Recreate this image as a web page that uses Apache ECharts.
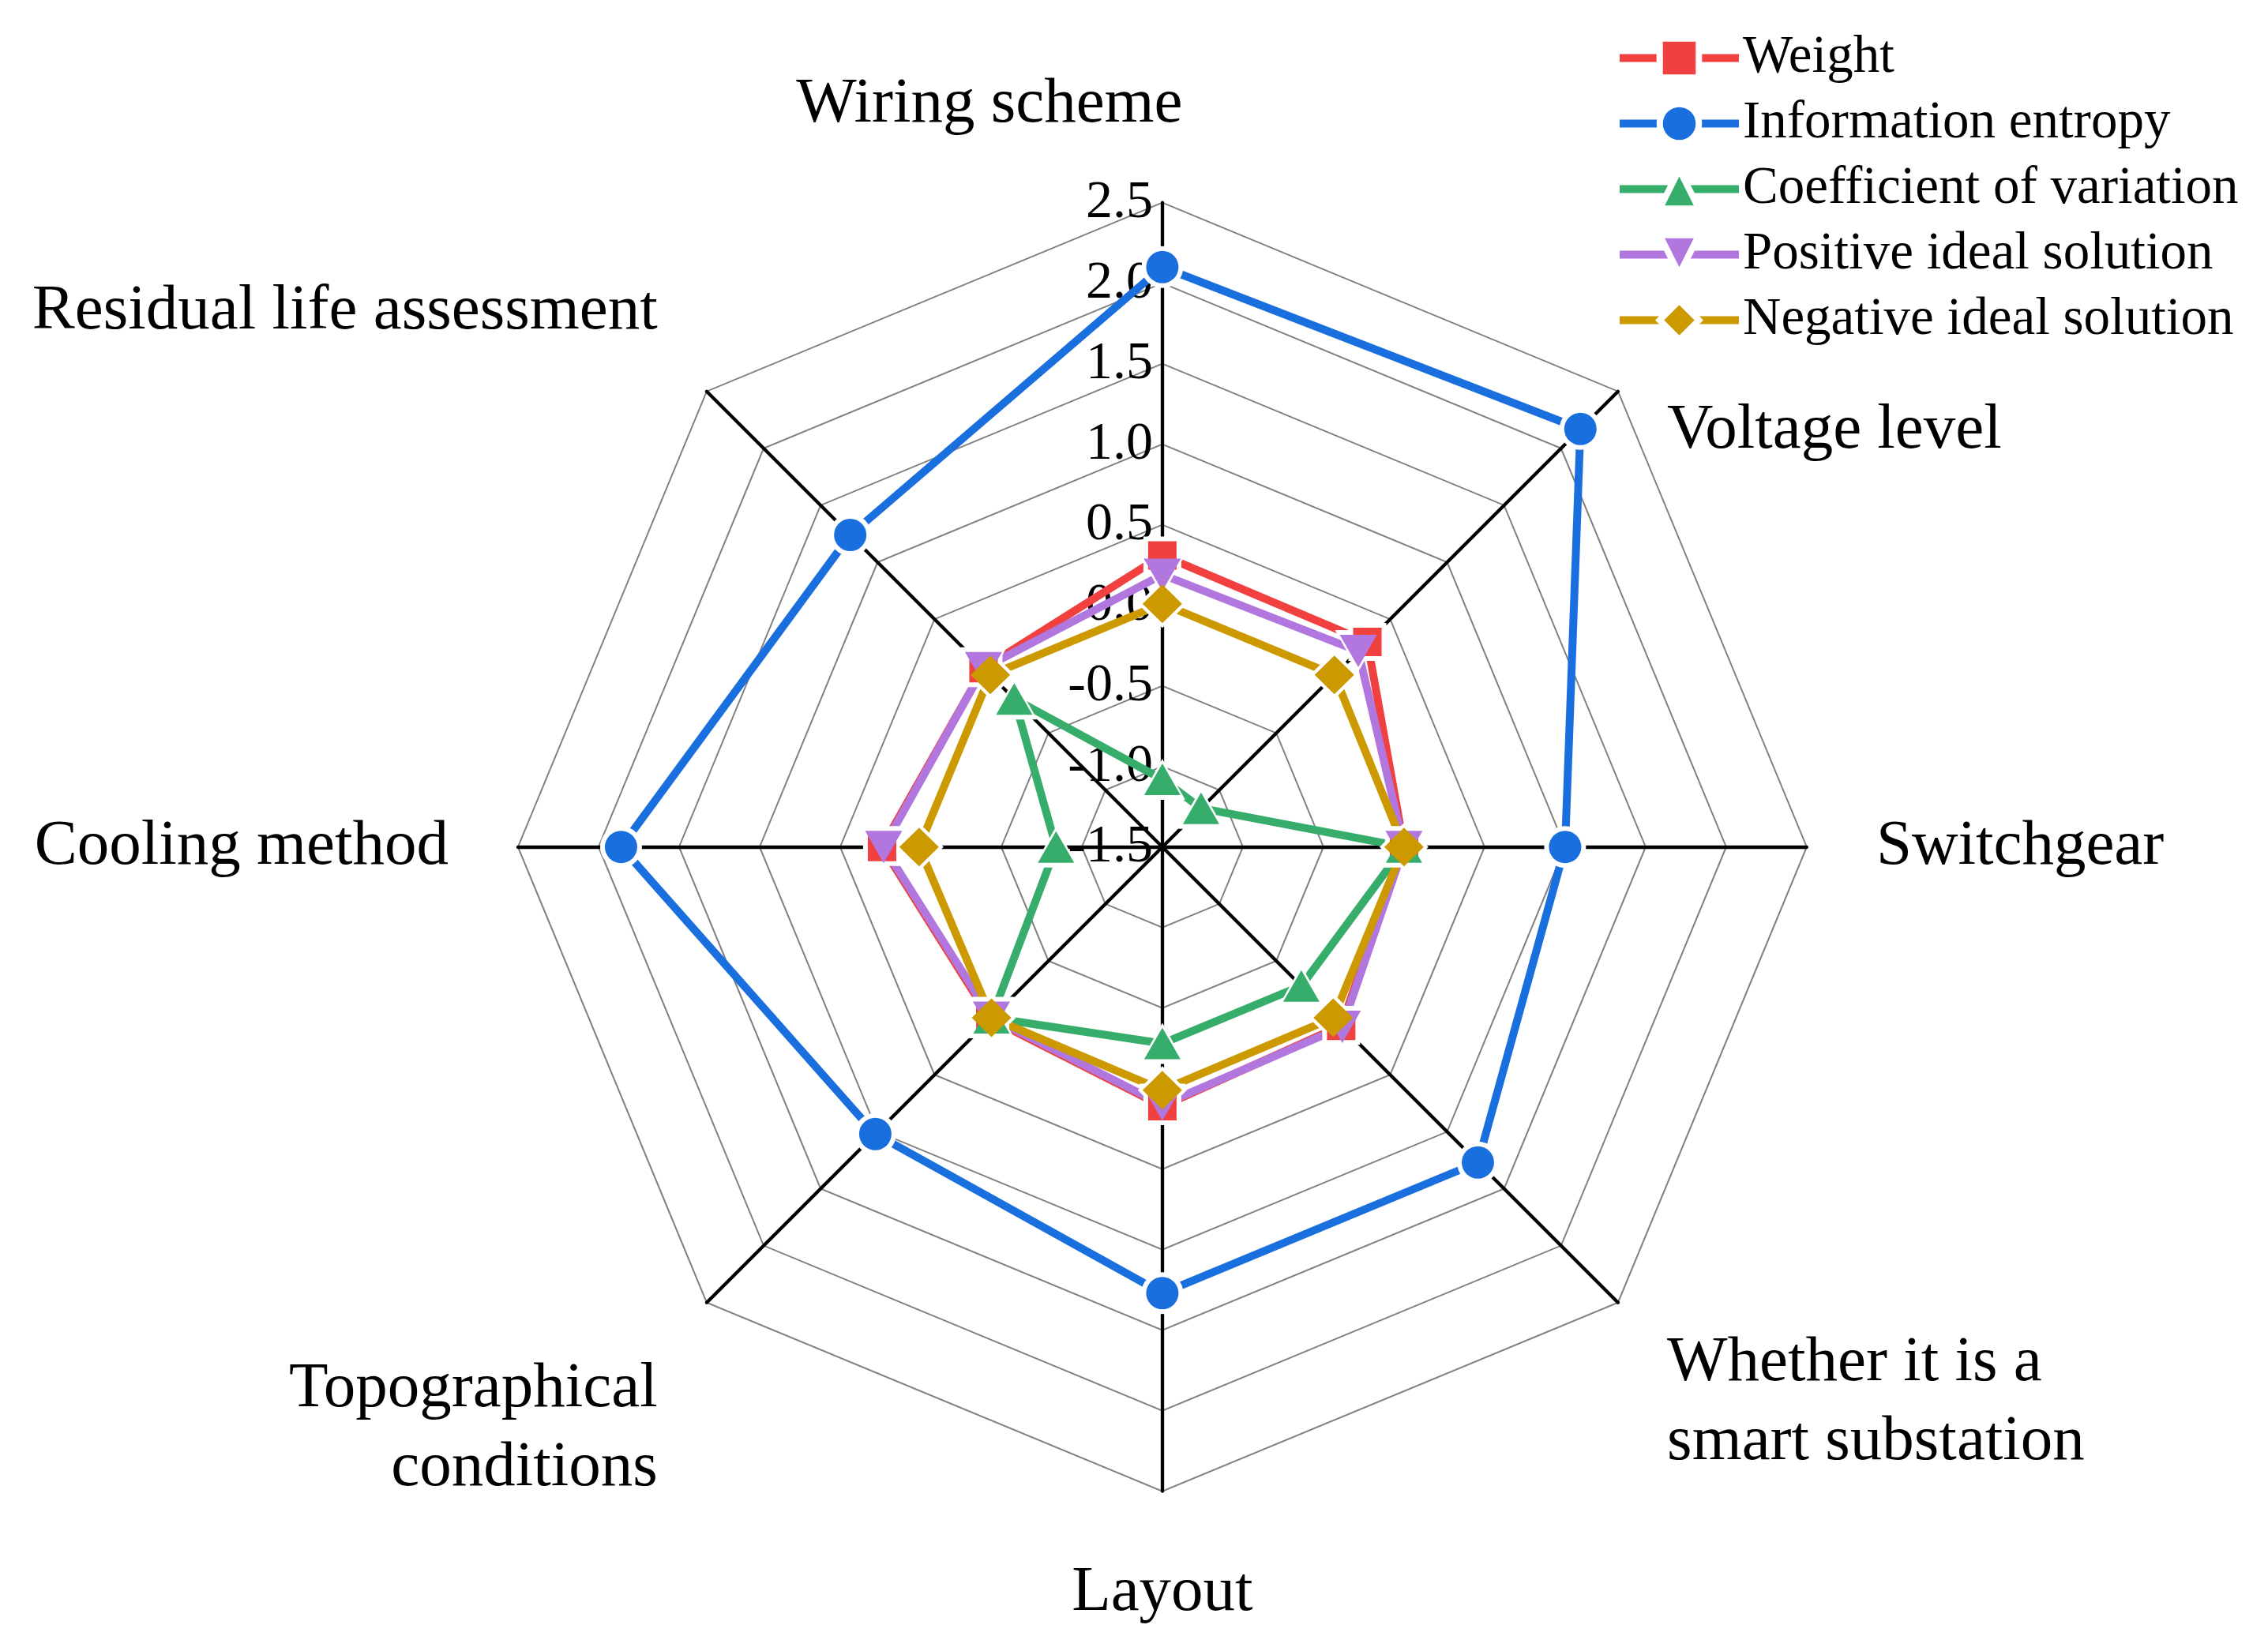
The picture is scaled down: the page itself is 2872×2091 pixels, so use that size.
<!DOCTYPE html>
<html><head><meta charset="utf-8">
<script src="https://cdn.jsdelivr.net/npm/echarts@6/dist/echarts.min.js"></script>
<style>html,body{margin:0;padding:0;background:#fff}#c{width:2872px;height:2091px}</style>
</head><body><div id="c"></div>
<script>
// Indicators in ECharts radar order (counter-clockwise from top)
const indicatorNames = ['Wiring scheme', 'Residual life assessment', 'Cooling method', 'Topographical conditions', 'Layout', 'Whether it is a smart substation', 'Switchgear', 'Voltage level'];
const seriesNames = ['Weight', 'Information entropy', 'Coefficient of variation', 'Positive ideal solution', 'Negative ideal solution'];
const weight   = [0.31, 0.07, 0.24, 0.01, 0.11, 0.07, 0.00, 0.30];
const entropy  = [2.10, 1.24, 1.86, 1.02, 1.27, 1.27, 1.00, 2.17];
const cv       = [-1.08, -0.20, -0.84, 0.00, -0.28, -0.28, 0.00, -1.16];
const pis      = [0.19, 0.07, 0.23, 0.00, 0.10, 0.08, 0.00, 0.22];
const nis      = [0.01, 0.01, 0.01, 0.00, 0.01, 0.00, 0.00, 0.01];
const tickMin = -1.5, tickMax = 2.5, tickStep = 0.5;

const seriesValues = [weight, entropy, cv, pis, nis];
const colors = ['#F14040', '#1A6FDF', '#37AD6B', '#B177DE', '#CC9900'];
const symbols = ['rect', 'circle', 'triangle', 'path://M0,0L20,0L10,18Z', 'diamond'];
const symbolSizes = [[36, 36], [41, 41], [46, 40], [47, 41], [50, 49]];
const HALO = 12;
const FONT = 'Liberation Serif';

const nameFormats = {
  'Wiring scheme': '{tw|Wiring scheme}{hs|}',
  'Voltage level': '{vs1|}\n{t|Voltage level}',
  'Residual life assessment': '{t|Residual life assessment}\n{vs2|}',
  'Whether it is a smart substation': '{vs3|}\n{t|Whether it is a}\n{t|smart substation}',
  'Topographical conditions': '{vs4|}\n{t|Topographical}\n{t|conditions}',
  'Layout': '{tl|Layout}'
};

const chart = echarts.init(document.getElementById('c'), null, {renderer: 'canvas'});
const legendSeries = seriesNames.map((n, i) => ({
  type: 'line', name: n, data: [], symbol: symbols[i], symbolSize: symbolSizes[i],
  lineStyle: {color: colors[i], width: 10}, itemStyle: {color: colors[i]}
}));
const lineLayer = {
  type: 'radar', z: 2, silent: true,
  data: seriesNames.map((n, i) => ({
    name: n, value: seriesValues[i], symbol: 'none',
    lineStyle: {color: colors[i], width: 10}, itemStyle: {color: colors[i]}
  }))
};
const haloLayer = {
  type: 'radar', z: 3, silent: true,
  data: seriesNames.map((n, i) => ({
    name: n, value: seriesValues[i], symbol: symbols[i],
    symbolSize: [symbolSizes[i][0] + HALO, symbolSizes[i][1] + HALO],
    lineStyle: {width: 0, opacity: 0}, itemStyle: {color: '#fff'}
  }))
};
const markerLayer = {
  type: 'radar', z: 4,
  data: seriesNames.map((n, i) => ({
    name: n, value: seriesValues[i], symbol: symbols[i], symbolSize: symbolSizes[i],
    lineStyle: {width: 0, opacity: 0}, itemStyle: {color: colors[i]}
  }))
};
const option = {
  animation: false,
  backgroundColor: '#fff',
  legend: {
    orient: 'vertical', left: 2041, top: 35, itemGap: 16, itemWidth: 151, itemHeight: 62,
    data: seriesNames, selectedMode: false,
    textStyle: {fontFamily: FONT, fontSize: 67, color: '#000'},
    itemStyle: {borderColor: '#fff', borderWidth: 8},
    lineStyle: {width: 10}
  },
  grid: {show: false, left: 0, top: 0, width: 10, height: 10},
  xAxis: {type: 'category', show: false, data: []},
  yAxis: {type: 'value', show: false},
  radar: {
    center: ['51.25%', '51.3%'], radius: 816, startAngle: 90, shape: 'polygon', splitNumber: (tickMax - tickMin) / tickStep,
    nameGap: 88,
    indicator: indicatorNames.map((n, i) => ({name: n, min: tickMin, max: tickMax, axisLabel: {show: i === 0}})),
    axisName: {
      color: '#000', fontFamily: FONT, fontSize: 81,
      formatter: (name) => nameFormats[name] || ('{t|' + name + '}'),
      rich: {
        t: {fontFamily: FONT, fontSize: 81, lineHeight: 100, color: '#000'},
        tw: {fontFamily: FONT, fontSize: 81, lineHeight: 72, color: '#000'},
        tl: {fontFamily: FONT, fontSize: 81, lineHeight: 82, color: '#000'},
        hs: {width: 438, height: 10, lineHeight: 72},
        vs1: {height: 224, lineHeight: 224},
        vs2: {height: 78, lineHeight: 78},
        vs3: {height: 130, lineHeight: 130},
        vs4: {height: 196, lineHeight: 196}
      }
    },
    axisLine: {lineStyle: {color: '#000', width: 4.3}},
    axisTick: {show: false},
    axisLabel: {show: true, fontFamily: FONT, fontSize: 68, color: '#000', margin: 12,
      formatter: (v) => Number(v).toFixed(1)},
    splitLine: {lineStyle: {color: '#808080', width: 2}},
    splitArea: {show: false}
  },
  series: legendSeries.concat([lineLayer, haloLayer, markerLayer])
};
chart.setOption(option);
</script></body></html>
